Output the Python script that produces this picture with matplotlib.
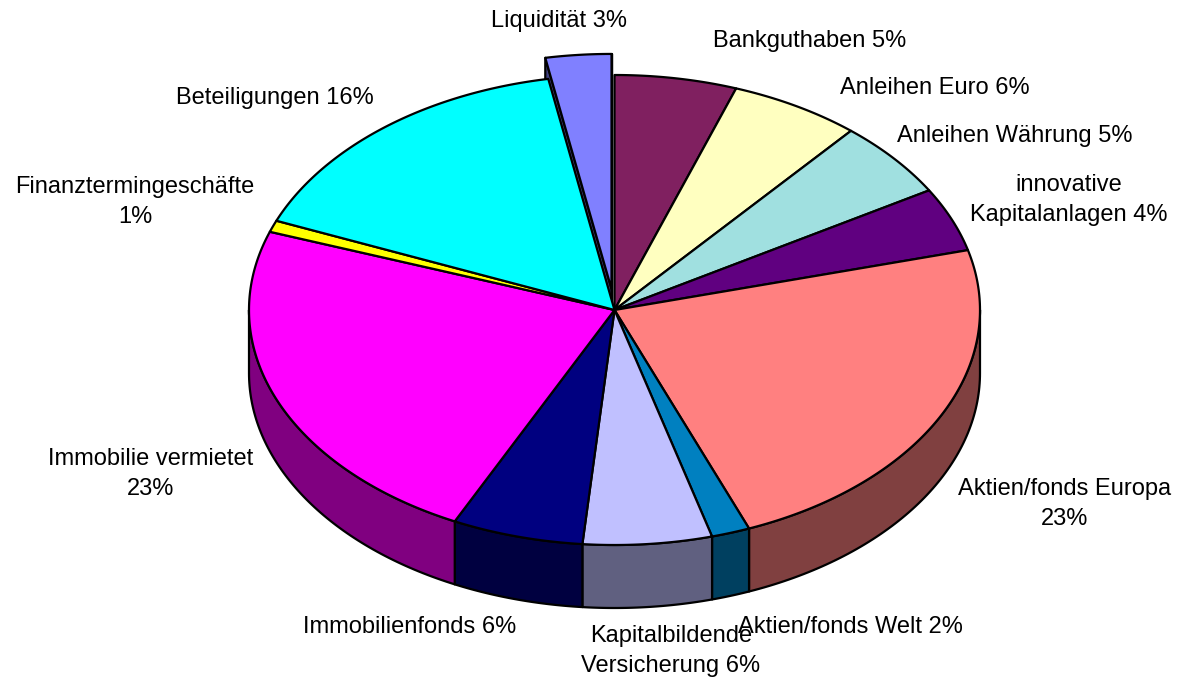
import numpy as np
import matplotlib
matplotlib.use("Agg")
import matplotlib.pyplot as plt
from matplotlib.patches import Polygon

# slices, clockwise from 12 o'clock
names = ["Bankguthaben", "Anleihen Euro", "Anleihen Währung", "innovative\nKapitalanlagen",
         "Aktien/fonds Europa\n", "Aktien/fonds Welt", "Kapitalbildende\nVersicherung",
         "Immobilienfonds", "Immobilie vermietet\n", "Finanztermingeschäfte\n",
         "Beteiligungen", "Liquidität"]
shares = [5.4, 5.8, 5.3, 4.4, 23.1, 1.7, 5.7, 5.8, 23.2, 0.8, 15.9, 2.9]
colors = ["#802060", "#FFFFC0", "#A0E0E0", "#600080", "#FF8080", "#0080C0",
          "#C0C0FF", "#000080", "#FF00FF", "#FFFF00", "#00FFFF", "#8080FF"]
explode = [0, 0, 0, 0, 0, 0, 0, 0, 0, 0, 0, 0.09]

# layout (pixels)
cx, cy, rx, ry, depth = 614.5, 310, 365.5, 235, 63
label_pos = [(810, 41), (935, 88), (1015, 136), (1069, 200), (1065, 504), (850, 627),
             (671, 651), (410, 627), (151, 474), (135, 202), (275, 98), (559, 21)]


def dark(c):
    r, g, b = matplotlib.colors.to_rgb(c)
    return (r * 0.5, g * 0.5, b * 0.5)


def pt(theta, dx=0.0, dy=0.0, down=0.0):
    t = np.radians(theta)
    return np.column_stack([cx + dx + rx * np.sin(t), cy + dy - ry * np.cos(t) + down])


fig = plt.figure(figsize=(11.8, 6.82), dpi=100)
ax = fig.add_axes([0, 0, 1, 1])
ax.set_xlim(0, 1180)
ax.set_ylim(682, 0)
ax.axis("off")

total = sum(shares)
bounds = np.concatenate([[0], np.cumsum(shares) / total * 360])
edge = dict(edgecolor="black", linewidth=1.6, joinstyle="round")

offs = []
for i in range(len(shares)):
    mid = np.radians((bounds[i] + bounds[i + 1]) / 2)
    offs.append((rx * np.sin(mid) * explode[i], -ry * np.cos(mid) * explode[i]))

# exploded slices (all sit at the back here): radial faces first, then top
for i in range(len(shares)):
    if not explode[i]:
        continue
    a, b = bounds[i], bounds[i + 1]
    dx, dy = offs[i]
    c = np.array([[cx + dx, cy + dy]])
    for ang, vis in ((a, np.sin(np.radians(a)) < 0), (b, np.sin(np.radians(b)) > 0)):
        if vis:
            o = pt(ang, dx, dy)
            face = np.vstack([c, o, o + [0, depth], c + [0, depth]])
            ax.add_patch(Polygon(face, facecolor=dark(colors[i]), **edge))
    arc = pt(np.linspace(a, b, 60), dx, dy)
    ax.add_patch(Polygon(np.vstack([c, arc]), facecolor=colors[i], **edge))

# front side walls
for i in range(len(shares)):
    if explode[i]:
        continue
    a, b = max(bounds[i], 90), min(bounds[i + 1], 270)
    if b <= a:
        continue
    th = np.linspace(a, b, 80)
    wall = np.vstack([pt(th), pt(th[::-1], down=depth)])
    ax.add_patch(Polygon(wall, facecolor=dark(colors[i]), **edge))

# tops
for i in range(len(shares)):
    if explode[i]:
        continue
    arc = pt(np.linspace(bounds[i], bounds[i + 1], 120))
    ax.add_patch(Polygon(np.vstack([[cx, cy], arc]), facecolor=colors[i], **edge))

for i, name in enumerate(names):
    sep = "" if name.endswith("\n") else " "
    txt = f"{name}{sep}{round(shares[i])}%"
    x, y = label_pos[i]
    ax.text(x, y, txt, ha="center", va="center", multialignment="center",
            fontsize=17, family=["Liberation Sans", "DejaVu Sans"], linespacing=1.45)

fig.savefig("out.png", dpi=100)
